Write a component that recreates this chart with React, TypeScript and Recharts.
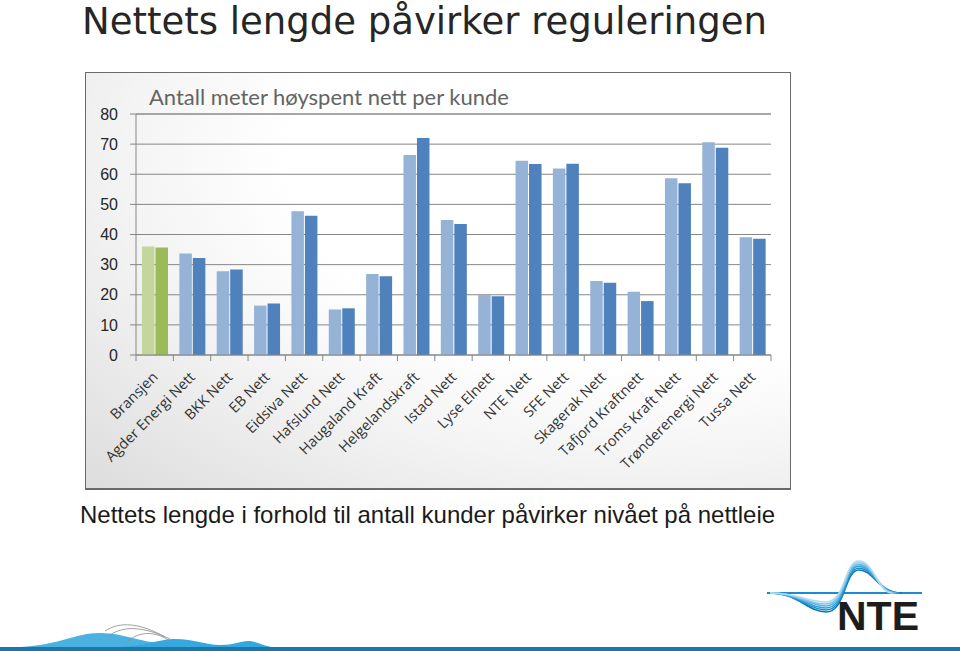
import { BarChart, Bar, XAxis, YAxis, CartesianGrid, Cell, ReferenceLine } from "recharts";

const categories = [
  "Bransjen",
  "Agder Energi Nett",
  "BKK Nett",
  "EB Nett",
  "Eidsiva Nett",
  "Hafslund Nett",
  "Haugaland Kraft",
  "Helgelandskraft",
  "Istad Nett",
  "Lyse Elnett",
  "NTE Nett",
  "SFE Nett",
  "Skagerak Nett",
  "Tafjord Kraftnett",
  "Troms Kraft Nett",
  "Trønderenergi Nett",
  "Tussa Nett",
];

const seriesA = [36.0, 33.7, 27.8, 16.4, 47.7, 15.1, 26.9, 66.4, 44.8, 19.9, 64.5, 61.9, 24.6, 21.0, 58.7, 70.6, 39.1];
const seriesB = [35.7, 32.2, 28.4, 17.1, 46.2, 15.5, 26.1, 72.0, 43.5, 19.5, 63.4, 63.5, 24.0, 17.9, 57.0, 68.8, 38.6];

const yTicks = [0, 10, 20, 30, 40, 50, 60, 70, 80];

const LIGHT = "#95B3D7";
const DARK = "#4F81BD";
const GREEN_LIGHT = "#C3D69B";
const GREEN_DARK = "#9BBB59";
const AXIS = "#878787";

const data = categories.map((name, i) => ({ name, a: seriesA[i], b: seriesB[i] }));

// rotated label plus a tick mark on the left category boundary (and the right one for the last)
function XTick(props: any) {
  const { x, y, payload, index } = props;
  const half = payload?.offset ?? 18.7;
  const ax = x + 4;
  const ay = y + 15;
  return (
    <g>
      <line x1={x - half} x2={x - half} y1={y - 8} y2={y - 2} stroke={AXIS} />
      {index === categories.length - 1 && (
        <line x1={x + half} x2={x + half} y1={y - 8} y2={y - 2} stroke={AXIS} />
      )}
      <text
        x={ax}
        y={ay}
        transform={`rotate(-45, ${ax}, ${ay})`}
        textAnchor="end"
        fontFamily="'Open Sans', sans-serif"
        fontSize={14.5}
        fill="#333"
      >
        {payload.value}
      </text>
    </g>
  );
}

function NteLogo() {
  const shades = ["#0a78b8", "#1f8fcc", "#3aa2d8", "#5db5e2", "#86c8ea", "#b0dbf1"];
  return (
    <svg width={200} height={100} style={{ position: "absolute", left: 760, top: 550 }}>
      <line x1={7} x2={162} y1={43} y2={43} stroke="#1a8ccf" strokeWidth={2} />
      {shades.map((c, i) => (
        <path
          key={c}
          d={`M10,43 C38,43 48,${62 - i * 2} 66,${62 - i * 2} C86,${62 - i * 2} 84,${20 - i * 1.8} 99,${20 - i * 1.8} C114,${20 - i * 1.8} 118,43 ${142 - i * 2},43`}
          fill="none"
          stroke={c}
          strokeWidth={1.6}
        />
      ))}
      <text x={77} y={80} fontFamily="'Liberation Sans', Arial, sans-serif" fontWeight="bold" fontSize={41} fill="#1d1d1b">
        NTE
      </text>
    </svg>
  );
}

function BottomWaves() {
  return (
    <svg width={960} height={30} style={{ position: "absolute", left: 0, top: 621 }}>
      <path d="M20,26 C60,24 75,12 100,12 C125,12 140,22 165,22 C185,22 195,30 210,30 Z" fill="#2aa3da" opacity={0.85} />
      <path d="M120,26 C150,24 160,18 175,18 C195,18 205,24 220,24 C235,24 240,20 248,20 C258,20 262,26 280,27 L120,27 Z" fill="#35a9de" />
      <path d="M105,10 C120,0 140,2 165,16 M110,14 C125,4 145,6 170,18 M128,20 C140,10 155,10 170,20" fill="none" stroke="#8a8a8a" strokeWidth={0.8} />
      <rect x={0} y={26} width={960} height={4} fill="#1678ad" />
    </svg>
  );
}

export default function App() {
  return (
    <div style={{ position: "fixed", left: 0, top: 0, width: 960, height: 651, background: "#fff", overflow: "hidden" }}>
      <div
        style={{
          position: "absolute",
          left: 82,
          top: 0,
          fontFamily: "'DejaVu Sans', sans-serif",
          fontSize: 37,
          color: "#262626",
          whiteSpace: "nowrap",
        }}
      >
        Nettets lengde påvirker reguleringen
      </div>

      <div
        style={{
          position: "absolute",
          left: 85,
          top: 72,
          width: 706,
          height: 418,
          boxSizing: "border-box",
          border: "1px solid #6a6a6a",
          borderBottomWidth: 2,
          background: "radial-gradient(ellipse at 80% 20%, #ffffff 45%, #f4f4f4 65%, #d6d6d6 110%)",
        }}
      >
        <div
          style={{
            position: "absolute",
            left: 63,
            top: 10,
            fontFamily: "Lato, sans-serif",
            fontSize: 22,
            color: "#646464",
            whiteSpace: "nowrap",
          }}
        >
          Antall meter høyspent nett per kunde
        </div>
        <BarChart
          width={704}
          height={415}
          data={data}
          margin={{ top: 41, right: 19, bottom: 0, left: 0 }}
          barSize={12.5}
          barGap={1}
        >
          <CartesianGrid vertical={false} stroke={AXIS} />
          <ReferenceLine y={80} stroke="#a6a6a6" strokeWidth={2} />
          <YAxis
            domain={[0, 80]}
            ticks={yTicks}
            width={50}
            tickSize={6}
            tickMargin={12}
            axisLine={{ stroke: AXIS }}
            tickLine={{ stroke: AXIS }}
            tick={{ fontFamily: "'Liberation Sans', Arial, sans-serif", fontSize: 16, fill: "#262626" }}
          />
          <XAxis
            dataKey="name"
            interval={0}
            height={133}
            axisLine={{ stroke: AXIS }}
            tickLine={false}
            tick={<XTick />}
          />
          <Bar dataKey="a" fill={LIGHT} isAnimationActive={false}>
            {data.map((d, i) => (
              <Cell key={d.name} fill={i === 0 ? GREEN_LIGHT : LIGHT} />
            ))}
          </Bar>
          <Bar dataKey="b" fill={DARK} isAnimationActive={false}>
            {data.map((d, i) => (
              <Cell key={d.name} fill={i === 0 ? GREEN_DARK : DARK} />
            ))}
          </Bar>
        </BarChart>
      </div>

      <div
        style={{
          position: "absolute",
          left: 80,
          top: 501,
          fontFamily: "'Liberation Sans', Arial, sans-serif",
          fontSize: 24,
          color: "#1a1a1a",
          whiteSpace: "nowrap",
        }}
      >
        Nettets lengde i forhold til antall kunder påvirker nivået på nettleie
      </div>

      <NteLogo />
      <BottomWaves />
    </div>
  );
}
